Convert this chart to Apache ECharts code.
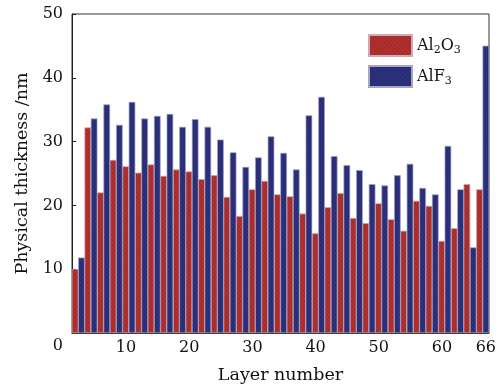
<!DOCTYPE html>
<html>
<head>
<meta charset="utf-8">
<script src="https://cdn.jsdelivr.net/npm/echarts@6/dist/echarts.min.js"></script>
<style>html,body{margin:0;padding:0;background:#fff;}#c{width:503px;height:389px;}</style>
</head>
<body>
<div id="c"></div>
<script>
// Layer numbers (odd layers: Al2O3, even layers: AlF3)
var al2o3Layers = [1,3,5,7,9,11,13,15,17,19,21,23,25,27,29,31,33,35,37,39,41,43,45,47,49,51,53,55,57,59,61,63,65];
var alf3Layers  = [2,4,6,8,10,12,14,16,18,20,22,24,26,28,30,32,34,36,38,40,42,44,46,48,50,52,54,56,58,60,62,64,66];
// Physical thickness (nm)
var al2o3 = [10.0,32.2,22.0,27.1,26.1,25.1,26.4,24.6,25.6,25.3,24.1,24.7,21.3,18.3,22.5,23.8,21.7,21.4,18.7,15.6,19.7,21.9,18.0,17.2,20.3,17.8,16.0,20.7,19.9,14.4,16.4,23.3,22.5];
var alf3  = [11.8,33.6,35.8,32.6,36.2,33.6,34.0,34.3,32.3,33.5,32.3,30.3,28.3,26.0,27.5,30.8,28.2,25.6,34.1,37.0,27.7,26.3,25.5,23.3,23.1,24.7,26.5,22.7,21.7,29.3,22.5,13.4,45.0];
var xTickLabels = [10,20,30,40,50,60,66];
var yTicks = {min:0, max:50, interval:10};

var categories = [];
for (var i = 1; i <= 66; i++) categories.push(String(i));

var FONT = 'DejaVu Serif';
var chart = echarts.init(document.getElementById('c'), null, {renderer:'canvas'});
var decalStyle = {
  symbol:'rect', symbolSize:1, dashArrayX:[1,0], dashArrayY:[1,2],
  rotation: Math.PI/4, color:'rgba(0,0,0,0.16)'
};
chart.setOption({
  animation:false,
  backgroundColor:'#fff',
  grid:{left:72, right:14, top:14, bottom:54, show:true, borderColor:'#333', borderWidth:1},
  legend:{
    orient:'vertical', left:363, top:29, itemWidth:43, itemHeight:21, itemGap:8,
    icon:'rect',
    data:['Al2O3','AlF3'],
    textStyle:{fontFamily:FONT, fontSize:16, color:'#111',
      rich:{sub:{fontFamily:FONT, fontSize:11, color:'#111', padding:[9,0,0,0]}}},
    formatter:function(n){ return n==='Al2O3' ? 'Al{sub|2}O{sub|3}' : 'AlF{sub|3}'; }
  },
  xAxis:{
    type:'category', data:categories,
    name:'Layer number', nameLocation:'middle', nameGap:33,
    nameTextStyle:{fontFamily:FONT, fontSize:17.5, color:'#111'},
    axisLine:{lineStyle:{color:'#222', width:1}},
    axisTick:{show:false},
    axisLabel:{
      fontFamily:FONT, fontSize:16, color:'#111', margin:7,
      interval:function(idx, val){ return xTickLabels.indexOf(Number(val)) >= 0; },
      formatter:function(val){ return Number(val)===66 ? '66' : '{s|'+val+'}'; },
      rich:{s:{fontFamily:FONT, fontSize:16, color:'#111', padding:[0,12,0,0]}}
    }
  },
  yAxis:{
    type:'value', min:yTicks.min, max:yTicks.max, interval:yTicks.interval,
    name:'Physical thickness /nm', nameLocation:'middle', nameGap:40,
    nameTextStyle:{fontFamily:FONT, fontSize:17.5, color:'#111'},
    axisLine:{show:true, lineStyle:{color:'#222', width:1}},
    axisTick:{show:true, inside:true, length:4, lineStyle:{color:'#222'}},
    splitLine:{show:false},
    axisLabel:{
      fontFamily:FONT, fontSize:16, color:'#111', margin:9,
      formatter:function(v){ return v===0 ? '{z|0}' : String(v); },
      rich:{z:{fontFamily:FONT, fontSize:16, color:'#111', padding:[26,0,0,0]}}
    }
  },
  series:[
    {
      name:'Al2O3', type:'bar', stack:'layers', barCategoryGap:'0%',
      data:al2o3Layers.map(function(l,i){ return [String(l), al2o3[i]]; }),
      itemStyle:{color:'#b5312f', borderColor:'#cfaab4', borderWidth:0.4, decal:decalStyle}
    },
    {
      name:'AlF3', type:'bar', stack:'layers', barCategoryGap:'0%',
      data:alf3Layers.map(function(l,i){ return [String(l), alf3[i]]; }),
      itemStyle:{color:'#2c3280', borderColor:'#a9a3c6', borderWidth:0.4, decal:decalStyle}
    }
  ]
});
</script>
</body>
</html>
